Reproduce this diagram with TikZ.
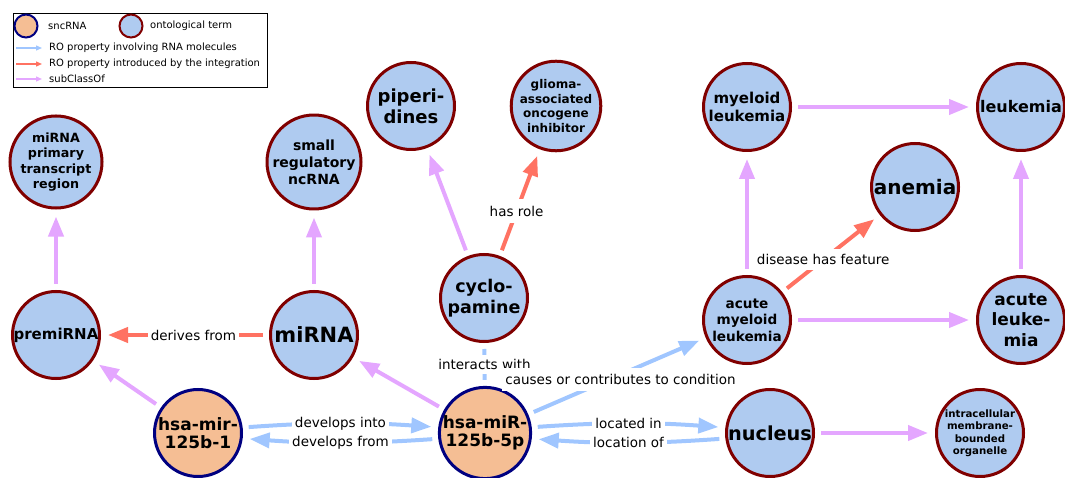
\documentclass[tikz,border=0pt]{standalone}
\usepackage{fontspec}
\setmainfont{DejaVu Sans}
\usetikzlibrary{arrows.meta}
\definecolor{sncfill}{HTML}{F5BE94}
\definecolor{sncdraw}{HTML}{000080}
\definecolor{ontfill}{HTML}{AFCBF0}
\definecolor{ontdraw}{HTML}{800000}
\definecolor{rnaedge}{HTML}{A0C6FF}
\definecolor{intedge}{HTML}{FF7262}
\definecolor{subedge}{HTML}{E4A6FF}
\newcommand\myfs[2]{\fontsize{#1}{#2}\selectfont}
\tikzset{
  base/.style={circle, minimum size=87pt, inner sep=0pt, line width=3pt, align=center},
  snc/.style={base, fill=sncfill, draw=sncdraw},
  ont/.style={base, fill=ontfill, draw=ontdraw},
  edgeline/.style={line width=4pt, -{Triangle[length=20pt,width=15pt]}, shorten >=7pt, shorten <=6pt},
  rna/.style={edgeline, draw=rnaedge},
  intg/.style={edgeline, draw=intedge},
  sub/.style={edgeline, draw=subedge},
  elabel/.style={fill=white, inner xsep=3pt, inner ysep=2pt, font=\myfs{13.5}{15}},
  legarrow/.style={line width=1.3pt, -{Triangle[length=6pt,width=5pt]}},
  legtext/.style={anchor=west, inner sep=0pt, font=\myfs{10}{12}},
  legcirc/.style={circle, minimum size=23pt, inner sep=0pt, line width=2pt}
}
\begin{document}
\begin{tikzpicture}[x=1pt,y=1pt]
\useasboundingbox (0,0) rectangle (1065,477);
% legend
\node[draw=black, line width=0.8pt, minimum width=254pt, minimum height=74pt, inner sep=0pt] (legbox) at (140,427) {};
\node[legcirc, fill=sncfill, draw=sncdraw] (lsnc) at (26,451) {};
\node[legtext] (lsnct) at (48,451) {sncRNA};
\node[legcirc, fill=ontfill, draw=ontdraw] (lont) at (131,451) {};
\node[legtext] (lontt) at (150,451) {ontological term};
\coordinate (la1) at (16,429); \coordinate (lb1) at (42,429);
\coordinate (la2) at (16,413); \coordinate (lb2) at (42,413);
\coordinate (la3) at (16,398); \coordinate (lb3) at (42,398);
\draw[legarrow, draw=rnaedge] (la1) -- (lb1);
\draw[legarrow, draw=intedge] (la2) -- (lb2);
\draw[legarrow, draw=subedge] (la3) -- (lb3);
\node[legtext] (lt1) at (49,429) {RO property involving RNA molecules};
\node[legtext] (lt2) at (49,413) {RO property introduced by the integration};
\node[legtext] (lt3) at (49,398) {subClassOf};

% nodes
\node[ont, font=\bfseries\myfs{12.7}{15.5}] (mprim) at (56,315) {miRNA\\primary\\transcript\\region};
\node[ont, font=\bfseries\myfs{14}{17}] (srnc) at (314,315) {small\\regulatory\\ncRNA};
\node[ont, font=\bfseries\myfs{15}{18}] (premi) at (56,142) {premiRNA};
\node[ont, font=\bfseries\myfs{21}{24}] (mirna) at (314,142) {miRNA};
\node[snc, font=\bfseries\myfs{17}{18.5}] (m1) at (198,44) {hsa-mir-\\125b-1};
\node[snc, font=\bfseries\myfs{17}{18.5}] (m5) at (485,44) {hsa-miR-\\125b-5p};
\node[ont, font=\bfseries\myfs{17.5}{20.5}] (cyclo) at (484,179) {cyclo-\\pamine};
\node[ont, font=\bfseries\myfs{18}{21}] (piper) at (411,371) {piperi-\\dines};
\node[ont, font=\bfseries\myfs{12}{14.5}] (glioma) at (556,371) {glioma-\\associated\\oncogene\\inhibitor};
\node[ont, font=\bfseries\myfs{15}{17.5}] (myleuk) at (747,370) {myeloid\\leukemia};
\node[ont, font=\bfseries\myfs{16}{19}] (leuk) at (1021,370) {leukemia};
\node[ont, font=\bfseries\myfs{20}{23}] (anemia) at (915,290) {anemia};
\node[ont, font=\bfseries\myfs{13.6}{16.5}] (aml) at (747,157) {acute\\myeloid\\leukemia};
\node[ont, font=\bfseries\myfs{17}{20.5}] (acleuk) at (1021,157) {acute\\leuke-\\mia};
\node[ont, font=\bfseries\myfs{19.3}{22}] (nucleus) at (770,44) {nucleus};
\node[ont, font=\bfseries\myfs{10.2}{12.5}] (organ) at (980,44) {intracellular\\membrane-\\bounded\\organelle};

% subClassOf edges
\draw[sub] (premi) -- (mprim);
\draw[sub] (mirna) -- (srnc);
\draw[sub] (m1) -- (premi);
\draw[sub] (m5) -- (mirna);
\draw[sub] (cyclo) -- (piper);
\draw[sub] (aml) -- (myleuk);
\draw[sub] (aml) -- (acleuk);
\draw[sub] (myleuk) -- (leuk);
\draw[sub] (acleuk) -- (leuk);
\draw[sub] (nucleus) -- (organ);

% integration edges
\draw[intg] (mirna) -- node[elabel, pos=0.45] {derives from} (premi);
\draw[intg] (cyclo) -- node[elabel, pos=0.42, inner ysep=7pt] {has role} (glioma);
\draw[intg] (aml) -- node[elabel, pos=0.42, inner ysep=5pt] {disease has feature} (anemia);

% RNA edges
\draw[rna] (m5) -- coordinate[pos=0.52] (ccpos) (aml);
\draw[line width=4pt, draw=rnaedge, shorten <=6pt, shorten >=6pt] (m5) -- node[elabel, pos=0.5, inner ysep=4pt] {interacts with} (cyclo);
\node[elabel, inner ysep=6pt, yshift=-5pt] (cclab) at (ccpos) {causes or contributes to condition};
\draw[rna] (m1.7) to[bend left=4] node[elabel] {develops into} (m5.173);
\draw[rna] (m5.187) to[bend left=4] node[elabel] {develops from} (m1.353);
\draw[rna] (m5.7) to[bend left=4] node[elabel] {located in} (nucleus.173);
\draw[rna] (nucleus.187) to[bend left=4] node[elabel] {location of} (m5.353);
\end{tikzpicture}
\end{document}
